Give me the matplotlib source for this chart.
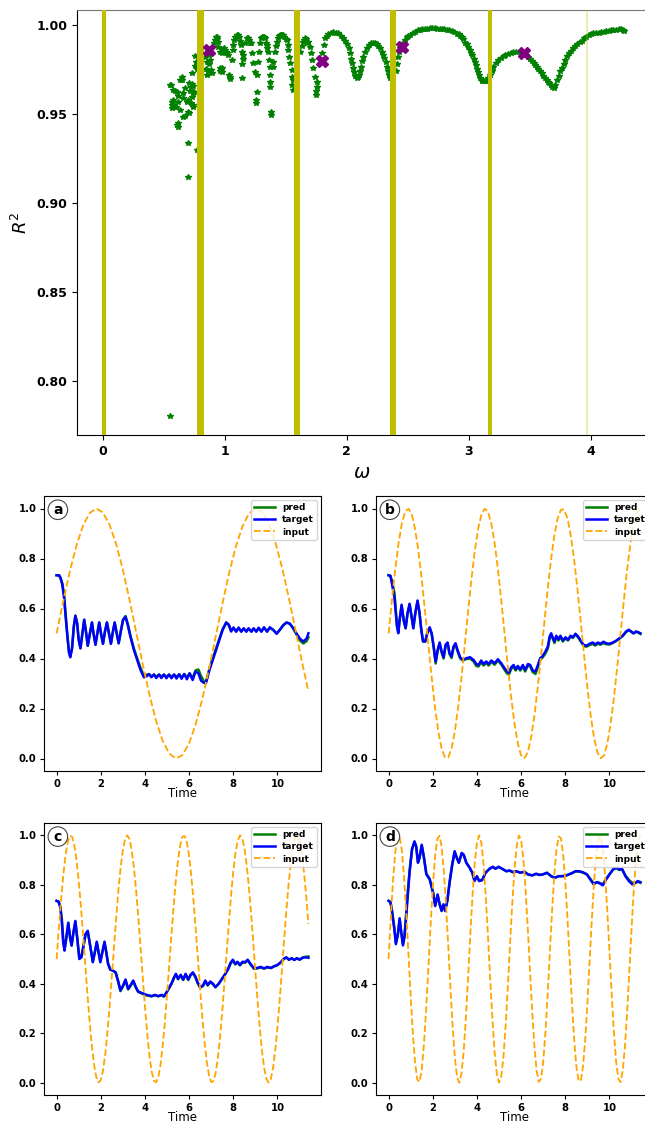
import numpy as np
import matplotlib
matplotlib.use("Agg")
import matplotlib.pyplot as plt

# ------------------------------------------------------------------ top panel data
# (omega, R^2) scatter points
r2_points = [
    (0.549, 0.7803),
    (0.552, 0.966), (0.560, 0.9663), (0.579, 0.9635), (0.593, 0.963), (0.607, 0.9626),
    (0.634, 0.9691), (0.648, 0.969), (0.653, 0.9710), (0.675, 0.9644), (0.661, 0.9588),
    (0.566, 0.9569), (0.587, 0.9550), (0.620, 0.9569), (0.620, 0.960), (0.571, 0.9532),
    (0.598, 0.9537), (0.634, 0.9522), (0.675, 0.9489), (0.661, 0.9485), (0.615, 0.9447),
    (0.615, 0.9425), (0.606, 0.944), (0.579, 0.958), (0.566, 0.955), (0.593, 0.954),
    (0.708, 0.9508), (0.702, 0.951), (0.724, 0.9560), (0.735, 0.9597), (0.743, 0.9537),
    (0.743, 0.955), (0.697, 0.9579), (0.688, 0.957), (0.661, 0.962), (0.743, 0.9657),
    (0.708, 0.9672), (0.716, 0.963), (0.729, 0.967), (0.724, 0.9654), (0.751, 0.9625),
    (0.743, 0.962), (0.697, 0.9335), (0.702, 0.9148), (0.770, 0.9300), (0.730, 0.9728),
    (0.757, 0.9826), (0.762, 0.9794), (0.770, 0.9751), (0.757, 0.977),
    (0.839, 0.9822), (0.852, 0.9794), (0.880, 0.9803), (0.888, 0.9747), (0.893, 0.9728),
    (0.845, 0.975), (0.855, 0.972), (0.865, 0.974), (0.870, 0.978), (0.875, 0.983),
    (0.915, 0.990), (0.921, 0.9916), (0.928, 0.9930), (0.934, 0.9934), (0.941, 0.992),
    (0.948, 0.9906), (0.943, 0.9878),
    (0.962, 0.985), (0.975, 0.9841), (0.989, 0.9863), (1.003, 0.986), (1.016, 0.9841),
    (1.025, 0.9831), (0.995, 0.987), (1.010, 0.985),
    (0.975, 0.9756), (0.975, 0.9738), (0.962, 0.974), (0.965, 0.976), (1.035, 0.9719),
    (1.044, 0.9695), (1.040, 0.971), (1.057, 0.9803),
    (1.065, 0.986), (1.071, 0.9888), (1.079, 0.9916), (1.087, 0.993), (1.098, 0.9944),
    (1.108, 0.9943), (1.117, 0.9934), (1.125, 0.991), (1.134, 0.9888), (1.139, 0.985),
    (1.153, 0.9831), (1.139, 0.970), (1.145, 0.978), (1.148, 0.981),
    (1.170, 0.990), (1.180, 0.9925), (1.190, 0.9928), (1.199, 0.9916), (1.208, 0.990),
    (1.216, 0.9897), (1.221, 0.9841), (1.235, 0.9785), (1.249, 0.9733), (1.262, 0.9719),
    (1.270, 0.9794), (1.281, 0.9850), (1.262, 0.9625), (1.254, 0.9579), (1.256, 0.956),
    (1.290, 0.990), (1.297, 0.9925), (1.303, 0.9934), (1.312, 0.9935), (1.322, 0.993),
    (1.330, 0.9925), (1.337, 0.990), (1.344, 0.9888), (1.350, 0.987), (1.358, 0.985),
    (1.363, 0.9803), (1.371, 0.9766), (1.371, 0.9719), (1.371, 0.9654), (1.373, 0.968),
    (1.380, 0.9513), (1.380, 0.9494), (1.399, 0.9766), (1.392, 0.979),
    (1.410, 0.985), (1.418, 0.988), (1.426, 0.9906), (1.435, 0.9925), (1.444, 0.9938),
    (1.453, 0.9944), (1.463, 0.9946), (1.472, 0.9946), (1.481, 0.9944), (1.490, 0.993),
    (1.500, 0.9920), (1.508, 0.9916), (1.515, 0.989), (1.522, 0.986), (1.529, 0.982),
    (1.536, 0.9785), (1.549, 0.9747), (1.549, 0.971), (1.555, 0.9663), (1.563, 0.9635),
    (1.560, 0.969),
    (1.620, 0.985), (1.630, 0.988), (1.645, 0.9906), (1.652, 0.9918), (1.658, 0.9925),
    (1.665, 0.992), (1.672, 0.9897), (1.686, 0.9906), (1.700, 0.9878), (1.708, 0.9841),
    (1.719, 0.9803), (1.727, 0.9756), (1.740, 0.971), (1.754, 0.9682), (1.760, 0.9654),
    (1.746, 0.9607), (1.750, 0.963),
    (1.800, 0.984), (1.810, 0.989), (1.822, 0.9925), (1.836, 0.994), (1.850, 0.995),
    (1.870, 0.9957), (1.891, 0.9959), (1.910, 0.9957), (1.932, 0.9953), (1.950, 0.994),
    (1.973, 0.9925), (1.985, 0.991), (2.000, 0.9893), (2.015, 0.987), (2.027, 0.9841),
    (2.037, 0.981), (2.047, 0.9785), (2.055, 0.976), (2.060, 0.9738), (2.070, 0.9715),
    (2.082, 0.970), (2.092, 0.9705), (2.101, 0.9719), (2.110, 0.974), (2.118, 0.9766),
    (2.128, 0.980), (2.137, 0.9822), (2.150, 0.985), (2.164, 0.9869), (2.180, 0.9885),
    (2.200, 0.9897), (2.215, 0.990), (2.232, 0.9901), (2.245, 0.9895), (2.260, 0.9882),
    (2.274, 0.9868), (2.287, 0.985), (2.298, 0.983), (2.309, 0.9813), (2.318, 0.979),
    (2.328, 0.9766), (2.338, 0.974), (2.347, 0.9719), (2.355, 0.970),
    (2.400, 0.974), (2.410, 0.978), (2.420, 0.982), (2.430, 0.985), (2.440, 0.987),
    (2.456, 0.9885), (2.465, 0.990), (2.478, 0.9916), (2.490, 0.993), (2.505, 0.994),
    (2.519, 0.9944), (2.540, 0.9955), (2.560, 0.9963), (2.580, 0.9970), (2.600, 0.9974),
    (2.620, 0.9977), (2.640, 0.9979), (2.660, 0.998), (2.680, 0.9981), (2.700, 0.9981),
    (2.720, 0.9981), (2.740, 0.998), (2.760, 0.998), (2.780, 0.9979), (2.800, 0.9977),
    (2.820, 0.9974), (2.840, 0.9970), (2.861, 0.9966), (2.880, 0.9958), (2.900, 0.9952),
    (2.916, 0.9948), (2.930, 0.994), (2.945, 0.993), (2.956, 0.992), (2.970, 0.990),
    (2.985, 0.9895), (2.997, 0.9878), (3.010, 0.986), (3.020, 0.9845), (3.030, 0.9831),
    (3.040, 0.981), (3.050, 0.979), (3.057, 0.9775), (3.066, 0.9755), (3.075, 0.9735),
    (3.085, 0.9719), (3.095, 0.970), (3.105, 0.969), (3.112, 0.9687), (3.125, 0.9685),
    (3.137, 0.9685), (3.148, 0.9685), (3.160, 0.970), (3.175, 0.9719), (3.188, 0.974),
    (3.202, 0.9766), (3.220, 0.9785), (3.243, 0.9803), (3.265, 0.9815), (3.285, 0.9826),
    (3.298, 0.9831), (3.320, 0.9838), (3.345, 0.9844), (3.366, 0.9846), (3.390, 0.9847),
    (3.421, 0.9846), (3.440, 0.9843), (3.456, 0.9837), (3.470, 0.983), (3.489, 0.9822),
    (3.505, 0.981), (3.520, 0.980), (3.532, 0.9788), (3.544, 0.9775), (3.557, 0.9764),
    (3.570, 0.9752), (3.585, 0.974), (3.598, 0.9728), (3.612, 0.9715), (3.625, 0.9703),
    (3.637, 0.9692), (3.648, 0.9682), (3.660, 0.9672), (3.672, 0.9661), (3.684, 0.9651),
    (3.694, 0.9644), (3.710, 0.9665), (3.720, 0.969), (3.735, 0.9715), (3.750, 0.974),
    (3.762, 0.976), (3.776, 0.978), (3.790, 0.9803), (3.805, 0.9825), (3.817, 0.984),
    (3.835, 0.9855), (3.850, 0.9868), (3.872, 0.988), (3.890, 0.9892), (3.910, 0.9902),
    (3.926, 0.991), (3.945, 0.9925), (3.960, 0.9935), (3.981, 0.9944), (4.000, 0.995),
    (4.020, 0.9953), (4.040, 0.9955), (4.063, 0.9957), (4.085, 0.996), (4.105, 0.9963),
    (4.125, 0.9965), (4.145, 0.9968), (4.165, 0.997), (4.185, 0.9972), (4.205, 0.9974),
    (4.227, 0.9976), (4.245, 0.9975), (4.260, 0.997), (4.268, 0.9966),
]
omega_marked = [0.869, 1.795, 2.451, 3.451]
r2_marked = [0.986, 0.980, 0.9876, 0.9843]
band_lo = [-0.005, 0.776, 1.568, 2.355, 3.161, 3.959]
band_hi = [0.028, 0.828, 1.617, 2.402, 3.189, 3.975]
band_alpha = [1.0, 1.0, 1.0, 1.0, 1.0, 0.3]

# ------------------------------------------------------------------ panel data
target_a = [(0.00,0.733),(0.11,0.733),(0.18,0.722),(0.26,0.695),(0.34,0.642),(0.41,0.568),(0.49,0.488),(0.56,0.424),(0.62,0.405),(0.70,0.441),(0.78,0.528),(0.85,0.571),(0.93,0.541),(1.00,0.475),(1.08,0.441),(1.16,0.495),(1.25,0.555),(1.34,0.501),(1.41,0.451),(1.51,0.501),(1.60,0.544),(1.67,0.501),(1.76,0.455),(1.86,0.508),(1.93,0.544),(2.02,0.495),(2.10,0.459),(2.19,0.508),(2.28,0.544),(2.37,0.501),(2.46,0.459),(2.55,0.508),(2.63,0.544),(2.72,0.501),(2.81,0.461),(2.92,0.515),(3.01,0.555),(3.12,0.566),(3.22,0.535),(3.34,0.488),(3.50,0.434),(3.65,0.394),(3.80,0.354),(3.95,0.325),(4.07,0.328),(4.18,0.338),(4.29,0.325),(4.41,0.336),(4.51,0.322),(4.64,0.336),(4.74,0.322),(4.86,0.336),(4.97,0.321),(5.09,0.336),(5.20,0.321),(5.32,0.336),(5.43,0.320),(5.55,0.337),(5.66,0.319),(5.78,0.338),(5.90,0.317),(6.02,0.341),(6.16,0.314),(6.29,0.348),(6.42,0.341),(6.54,0.311),(6.66,0.303),(6.76,0.301),(6.92,0.354),(7.07,0.394),(7.22,0.434),(7.37,0.475),(7.52,0.515),(7.68,0.544),(7.80,0.535),(7.90,0.508),(8.01,0.524),(8.13,0.507),(8.24,0.524),(8.36,0.507),(8.47,0.521),(8.59,0.507),(8.69,0.521),(8.82,0.507),(8.92,0.521),(9.04,0.507),(9.15,0.523),(9.27,0.507),(9.39,0.525),(9.53,0.507),(9.65,0.525),(9.80,0.515),(9.96,0.499),(10.11,0.515),(10.26,0.533),(10.41,0.544),(10.56,0.539),(10.72,0.521),(10.87,0.499),(11.02,0.479),(11.17,0.468),(11.32,0.480),(11.40,0.501)]
pred_a = [(0.00,0.733),(0.11,0.733),(0.18,0.722),(0.26,0.700),(0.34,0.655),(0.41,0.575),(0.49,0.490),(0.56,0.428),(0.62,0.408),(0.70,0.441),(0.78,0.528),(0.85,0.571),(0.93,0.541),(1.00,0.475),(1.08,0.441),(1.16,0.495),(1.25,0.555),(1.34,0.501),(1.41,0.451),(1.51,0.501),(1.60,0.544),(1.67,0.501),(1.76,0.455),(1.86,0.508),(1.93,0.544),(2.02,0.495),(2.10,0.459),(2.19,0.508),(2.28,0.544),(2.37,0.501),(2.46,0.459),(2.55,0.508),(2.63,0.544),(2.72,0.501),(2.81,0.461),(2.92,0.515),(3.01,0.555),(3.12,0.570),(3.22,0.540),(3.34,0.492),(3.50,0.440),(3.65,0.400),(3.80,0.362),(3.95,0.333),(4.07,0.335),(4.18,0.337),(4.29,0.330),(4.41,0.335),(4.51,0.328),(4.64,0.335),(4.74,0.328),(4.86,0.335),(4.97,0.327),(5.09,0.335),(5.20,0.327),(5.32,0.335),(5.43,0.327),(5.55,0.336),(5.66,0.326),(5.78,0.337),(5.90,0.325),(6.02,0.340),(6.16,0.322),(6.29,0.352),(6.42,0.356),(6.54,0.330),(6.66,0.310),(6.76,0.305),(6.92,0.360),(7.07,0.402),(7.22,0.440),(7.37,0.480),(7.52,0.518),(7.68,0.544),(7.80,0.532),(7.90,0.512),(8.01,0.520),(8.13,0.510),(8.24,0.520),(8.36,0.510),(8.47,0.518),(8.59,0.510),(8.69,0.518),(8.82,0.510),(8.92,0.518),(9.04,0.510),(9.15,0.520),(9.27,0.510),(9.39,0.522),(9.53,0.510),(9.65,0.522),(9.80,0.515),(9.96,0.500),(10.11,0.515),(10.26,0.533),(10.41,0.544),(10.56,0.539),(10.72,0.518),(10.87,0.495),(11.02,0.472),(11.17,0.460),(11.32,0.470),(11.40,0.485)]
input_a = [0.500,0.629,0.749,0.852,0.932,0.982,1.000,0.984,0.935,0.857,0.755,0.635,0.507,0.377,0.256,0.152,0.071,0.020,0.000,0.014,0.061,0.138,0.239,0.359,0.487,0.616,0.738,0.843,0.925,0.979,1.000,0.987,0.942,0.866,0.766,0.648,0.520,0.390,0.268]
input_step_a = 0.3

target_b = [(0.00,0.733),(0.08,0.731),(0.12,0.715),(0.20,0.675),(0.27,0.640),(0.32,0.588),(0.38,0.528),(0.44,0.501),(0.50,0.555),(0.59,0.615),(0.68,0.555),(0.77,0.521),(0.86,0.582),(0.95,0.619),(1.04,0.568),(1.12,0.521),(1.21,0.582),(1.31,0.632),(1.40,0.582),(1.48,0.515),(1.56,0.468),(1.66,0.468),(1.75,0.501),(1.86,0.525),(1.95,0.501),(2.04,0.448),(2.13,0.388),(2.22,0.434),(2.31,0.464),(2.40,0.428),(2.49,0.405),(2.58,0.455),(2.67,0.464),(2.76,0.421),(2.85,0.408),(2.94,0.448),(3.03,0.461),(3.12,0.434),(3.24,0.405),(3.36,0.394),(3.51,0.401),(3.69,0.405),(3.85,0.394),(3.97,0.378),(4.07,0.374),(4.19,0.392),(4.30,0.378),(4.42,0.388),(4.53,0.378),(4.65,0.392),(4.80,0.381),(4.95,0.397),(5.10,0.381),(5.25,0.361),(5.36,0.348),(5.45,0.344),(5.55,0.365),(5.66,0.374),(5.75,0.357),(5.85,0.370),(5.96,0.357),(6.08,0.374),(6.18,0.354),(6.31,0.378),(6.41,0.374),(6.53,0.352),(6.65,0.348),(6.76,0.374),(6.86,0.401),(6.98,0.410),(7.10,0.428),(7.21,0.448),(7.29,0.488),(7.36,0.501),(7.44,0.481),(7.51,0.468),(7.59,0.491),(7.69,0.477),(7.78,0.491),(7.89,0.472),(8.01,0.485),(8.12,0.475),(8.24,0.491),(8.34,0.485),(8.46,0.499),(8.58,0.488),(8.72,0.468),(8.83,0.455),(8.95,0.451),(9.10,0.459),(9.25,0.464),(9.35,0.456),(9.47,0.464),(9.59,0.459),(9.73,0.467),(9.85,0.461),(10.00,0.459),(10.15,0.464),(10.30,0.471),(10.45,0.481),(10.60,0.491),(10.75,0.508),(10.87,0.515),(10.98,0.508),(11.09,0.501),(11.20,0.508),(11.31,0.505),(11.40,0.501)]
pred_b = [(0.00,0.733),(0.08,0.731),(0.12,0.720),(0.20,0.690),(0.27,0.660),(0.32,0.600),(0.38,0.530),(0.44,0.505),(0.50,0.555),(0.59,0.612),(0.68,0.555),(0.77,0.521),(0.86,0.582),(0.95,0.615),(1.04,0.568),(1.12,0.521),(1.21,0.582),(1.31,0.628),(1.40,0.582),(1.48,0.515),(1.56,0.468),(1.66,0.468),(1.75,0.501),(1.86,0.520),(1.95,0.498),(2.04,0.445),(2.13,0.380),(2.22,0.430),(2.31,0.460),(2.40,0.425),(2.49,0.400),(2.58,0.450),(2.67,0.460),(2.76,0.418),(2.85,0.402),(2.94,0.443),(3.03,0.456),(3.12,0.430),(3.24,0.400),(3.36,0.392),(3.51,0.398),(3.69,0.400),(3.85,0.388),(3.97,0.370),(4.07,0.368),(4.19,0.385),(4.30,0.372),(4.42,0.382),(4.53,0.372),(4.65,0.386),(4.80,0.375),(4.95,0.392),(5.10,0.376),(5.25,0.355),(5.36,0.340),(5.45,0.336),(5.55,0.358),(5.66,0.368),(5.75,0.352),(5.85,0.365),(5.96,0.352),(6.08,0.368),(6.18,0.348),(6.31,0.372),(6.41,0.368),(6.53,0.345),(6.65,0.338),(6.76,0.366),(6.86,0.395),(6.98,0.405),(7.10,0.420),(7.21,0.440),(7.29,0.480),(7.36,0.495),(7.44,0.478),(7.51,0.462),(7.59,0.486),(7.69,0.472),(7.78,0.487),(7.89,0.468),(8.01,0.481),(8.12,0.472),(8.24,0.488),(8.34,0.482),(8.46,0.496),(8.58,0.485),(8.72,0.465),(8.83,0.451),(8.95,0.447),(9.10,0.454),(9.25,0.458),(9.35,0.452),(9.47,0.459),(9.59,0.455),(9.73,0.462),(9.85,0.457),(10.00,0.456),(10.15,0.462),(10.30,0.470),(10.45,0.480),(10.60,0.490),(10.75,0.506),(10.87,0.513),(10.98,0.507),(11.09,0.500),(11.20,0.507),(11.31,0.503),(11.40,0.498)]
input_b = [0.500,0.633,0.756,0.861,0.940,0.988,0.999,0.976,0.918,0.829,0.717,0.589,0.455,0.325,0.206,0.109,0.039,0.005,0.004,0.040,0.109,0.206,0.324,0.455,0.589,0.717,0.829,0.917,0.975,0.999,0.988,0.940,0.862,0.757,0.633,0.500,0.367,0.244,0.139,0.060,0.012,0.001,0.025,0.082,0.171,0.283,0.410,0.544,0.675,0.793,0.890,0.959,0.995,0.996,0.960,0.891,0.795,0.677,0.546,0.412,0.284,0.172,0.083,0.025,0.001,0.012,0.059,0.138,0.242,0.366,0.499,0.632,0.756,0.861,0.940,0.987,1.000]
input_step_b = 0.15

target_c = [(0.00,0.735),(0.09,0.732),(0.17,0.708),(0.24,0.647),(0.30,0.567),(0.36,0.534),(0.44,0.587),(0.53,0.647),(0.61,0.587),(0.68,0.554),(0.76,0.607),(0.85,0.654),(0.94,0.580),(1.03,0.500),(1.12,0.507),(1.22,0.554),(1.31,0.601),(1.41,0.614),(1.52,0.554),(1.64,0.487),(1.73,0.527),(1.82,0.570),(1.90,0.527),(1.98,0.487),(2.07,0.527),(2.17,0.570),(2.25,0.527),(2.33,0.480),(2.43,0.457),(2.55,0.453),(2.67,0.446),(2.78,0.413),(2.89,0.373),(3.01,0.393),(3.12,0.417),(3.24,0.379),(3.34,0.393),(3.47,0.413),(3.59,0.386),(3.69,0.369),(3.84,0.363),(4.07,0.355),(4.30,0.350),(4.45,0.355),(4.60,0.350),(4.76,0.355),(4.86,0.349),(4.98,0.366),(5.11,0.386),(5.21,0.403),(5.32,0.426),(5.40,0.440),(5.50,0.420),(5.62,0.436),(5.73,0.417),(5.84,0.440),(5.96,0.417),(6.06,0.436),(6.17,0.446),(6.28,0.430),(6.38,0.406),(6.50,0.386),(6.63,0.393),(6.73,0.413),(6.84,0.395),(6.96,0.409),(7.08,0.400),(7.19,0.386),(7.34,0.400),(7.49,0.420),(7.64,0.440),(7.77,0.460),(7.87,0.484),(7.98,0.497),(8.09,0.480),(8.19,0.489),(8.30,0.476),(8.42,0.489),(8.53,0.487),(8.65,0.497),(8.78,0.480),(8.94,0.462),(9.09,0.464),(9.24,0.468),(9.39,0.462),(9.54,0.468),(9.70,0.464),(9.85,0.471),(10.00,0.476),(10.15,0.487),(10.27,0.500),(10.40,0.507),(10.52,0.497),(10.64,0.503),(10.76,0.496),(10.88,0.503),(11.00,0.497),(11.14,0.505),(11.28,0.507),(11.40,0.505)]
pred_c = [(0.00,0.735),(0.09,0.732),(0.17,0.712),(0.24,0.660),(0.30,0.580),(0.36,0.540),(0.44,0.585),(0.53,0.643),(0.61,0.587),(0.68,0.556),(0.76,0.605),(0.85,0.650),(0.94,0.580),(1.03,0.503),(1.12,0.507),(1.22,0.554),(1.31,0.598),(1.41,0.612),(1.52,0.554),(1.64,0.490),(1.73,0.527),(1.82,0.566),(1.90,0.527),(1.98,0.490),(2.07,0.527),(2.17,0.566),(2.25,0.527),(2.33,0.483),(2.43,0.457),(2.55,0.453),(2.67,0.446),(2.78,0.410),(2.89,0.370),(3.01,0.390),(3.12,0.413),(3.24,0.377),(3.34,0.390),(3.47,0.410),(3.59,0.384),(3.69,0.367),(3.84,0.361),(4.07,0.353),(4.30,0.349),(4.45,0.353),(4.60,0.349),(4.76,0.353),(4.86,0.348),(4.98,0.364),(5.11,0.384),(5.21,0.401),(5.32,0.424),(5.40,0.437),(5.50,0.418),(5.62,0.433),(5.73,0.415),(5.84,0.437),(5.96,0.415),(6.06,0.433),(6.17,0.443),(6.28,0.427),(6.38,0.403),(6.50,0.384),(6.63,0.391),(6.73,0.410),(6.84,0.393),(6.96,0.406),(7.08,0.398),(7.19,0.386),(7.34,0.400),(7.49,0.420),(7.64,0.440),(7.77,0.460),(7.87,0.480),(7.98,0.493),(8.09,0.478),(8.19,0.486),(8.30,0.474),(8.42,0.486),(8.53,0.485),(8.65,0.494),(8.78,0.478),(8.94,0.460),(9.09,0.462),(9.24,0.466),(9.39,0.461),(9.54,0.466),(9.70,0.463),(9.85,0.470),(10.00,0.475),(10.15,0.486),(10.27,0.499),(10.40,0.506),(10.52,0.497),(10.64,0.503),(10.76,0.497),(10.88,0.503),(11.00,0.498),(11.14,0.506),(11.28,0.509),(11.40,0.510)]
input_c = [0.500,0.622,0.736,0.836,0.916,0.971,0.998,0.995,0.962,0.901,0.817,0.713,0.597,0.475,0.354,0.243,0.146,0.071,0.021,0.001,0.010,0.048,0.113,0.202,0.309,0.427,0.550,0.669,0.779,0.871,0.941,0.985,1.000,0.985,0.940,0.870,0.777,0.668,0.548,0.426,0.308,0.201,0.112,0.047,0.009,0.001,0.021,0.070,0.146,0.243,0.357,0.477,0.599,0.715,0.819,0.903,0.963,0.995,0.997,0.970,0.915,0.834,0.734,0.620,0.498,0.376,0.262,0.162,0.083,0.029,0.002,0.006,0.039,0.100,0.184,0.288,0.405,0.527,0.647,0.759,0.855,0.930,0.979,1.000,0.990,0.951,0.885,0.796,0.690,0.571,0.448,0.329,0.220,0.127,0.058,0.015,0.000,0.015,0.060,0.132,0.226,0.334,0.454,0.577,0.694,0.800,0.889,0.953,0.991,0.999,0.978,0.927,0.851,0.754,0.642]
input_step_c = 0.1

target_d = [(0.00,0.735),(0.08,0.731),(0.14,0.701),(0.20,0.660),(0.26,0.620),(0.33,0.560),(0.42,0.600),(0.50,0.665),(0.57,0.610),(0.65,0.555),(0.72,0.590),(0.80,0.674),(0.88,0.770),(0.95,0.849),(1.06,0.942),(1.17,0.976),(1.25,0.956),(1.33,0.889),(1.40,0.909),(1.50,0.962),(1.59,0.916),(1.71,0.842),(1.86,0.822),(2.01,0.768),(2.11,0.714),(2.22,0.761),(2.31,0.721),(2.40,0.694),(2.48,0.721),(2.56,0.694),(2.66,0.735),(2.76,0.808),(2.88,0.882),(2.99,0.936),(3.09,0.909),(3.18,0.889),(3.31,0.929),(3.40,0.922),(3.52,0.889),(3.67,0.869),(3.79,0.849),(3.89,0.815),(4.00,0.835),(4.10,0.815),(4.24,0.819),(4.39,0.849),(4.57,0.865),(4.72,0.873),(4.84,0.865),(4.98,0.873),(5.14,0.865),(5.33,0.855),(5.48,0.858),(5.63,0.851),(5.78,0.855),(5.96,0.849),(6.15,0.853),(6.31,0.842),(6.50,0.838),(6.68,0.845),(6.83,0.840),(6.98,0.842),(7.17,0.849),(7.36,0.835),(7.51,0.828),(7.71,0.835),(7.89,0.835),(8.07,0.839),(8.27,0.846),(8.46,0.855),(8.61,0.855),(8.79,0.851),(8.98,0.842),(9.13,0.822),(9.28,0.802),(9.43,0.811),(9.55,0.806),(9.70,0.798),(9.85,0.822),(10.00,0.842),(10.18,0.865),(10.33,0.869),(10.45,0.862),(10.57,0.865),(10.72,0.835),(10.88,0.815),(11.03,0.802),(11.15,0.806),(11.28,0.815),(11.40,0.811)]
pred_d = [(0.00,0.735),(0.08,0.731),(0.14,0.705),(0.20,0.668),(0.26,0.628),(0.33,0.565),(0.42,0.598),(0.50,0.660),(0.57,0.610),(0.65,0.560),(0.72,0.595),(0.80,0.690),(0.88,0.785),(0.95,0.858),(1.06,0.945),(1.17,0.972),(1.25,0.952),(1.33,0.892),(1.40,0.909),(1.50,0.958),(1.59,0.916),(1.71,0.845),(1.86,0.824),(2.01,0.772),(2.11,0.718),(2.22,0.758),(2.31,0.722),(2.40,0.697),(2.48,0.720),(2.56,0.697),(2.66,0.738),(2.76,0.810),(2.88,0.880),(2.99,0.932),(3.09,0.908),(3.18,0.890),(3.31,0.926),(3.40,0.920),(3.52,0.889),(3.67,0.869),(3.79,0.849),(3.89,0.818),(4.00,0.833),(4.10,0.817),(4.24,0.821),(4.39,0.849),(4.57,0.865),(4.72,0.872),(4.84,0.865),(4.98,0.872),(5.14,0.865),(5.33,0.855),(5.48,0.857),(5.63,0.851),(5.78,0.855),(5.96,0.849),(6.15,0.852),(6.31,0.842),(6.50,0.838),(6.68,0.844),(6.83,0.840),(6.98,0.842),(7.17,0.848),(7.36,0.835),(7.51,0.829),(7.71,0.835),(7.89,0.835),(8.07,0.839),(8.27,0.846),(8.46,0.854),(8.61,0.854),(8.79,0.850),(8.98,0.842),(9.13,0.824),(9.28,0.806),(9.43,0.810),(9.55,0.808),(9.70,0.802),(9.85,0.824),(10.00,0.843),(10.18,0.863),(10.33,0.866),(10.45,0.860),(10.57,0.862),(10.72,0.838),(10.88,0.820),(11.03,0.808),(11.15,0.808),(11.28,0.812),(11.40,0.808)]
input_d = [0.500,0.669,0.818,0.930,0.991,0.994,0.939,0.832,0.686,0.518,0.348,0.196,0.080,0.012,0.003,0.052,0.155,0.297,0.463,0.634,0.789,0.910,0.983,0.998,0.955,0.858,0.720,0.555,0.384,0.226,0.100,0.022,0.000,0.037,0.128,0.264,0.427,0.599,0.759,0.888,0.972,1.000,0.969,0.883,0.752,0.591,0.419,0.257,0.123,0.035,0.000,0.024,0.104,0.233,0.391,0.563,0.727,0.864,0.958,0.999,0.981,0.905,0.783,0.627,0.456,0.290,0.149,0.049,0.003,0.015,0.084,0.203,0.356,0.526,0.693,0.838,0.943,0.995,0.989,0.926,0.812,0.661,0.492,0.324,0.176,0.066,0.008,0.007,0.065,0.173,0.321,0.490,0.659,0.810,0.925,0.989,0.996,0.944,0.840,0.696,0.529,0.358,0.205,0.085,0.016,0.002,0.048,0.146,0.287,0.453,0.624,0.781,0.904,0.980,0.999]
input_step_d = 0.1

panel_letters = ["a", "b", "c", "d"]

# ------------------------------------------------------------------ figure
W, H = 645, 1125
fig = plt.figure(figsize=(W / 100, H / 100), dpi=100)


def frac(x0, y0, x1, y1):
    return [x0 / W, 1 - y1 / H, (x1 - x0) / W, (y1 - y0) / H]


# ---------------- top panel
ax = fig.add_axes(frac(77, 10, 647, 435))
om = [p[0] for p in r2_points]
rr = [p[1] for p in r2_points]
ax.plot(om, rr, linestyle="none", marker="*", color="g", markersize=4.2, zorder=2)
for lo, hi, al in zip(band_lo, band_hi, band_alpha):
    ax.axvspan(lo, hi, color="y", alpha=al, lw=0, zorder=3)
ax.plot(omega_marked, r2_marked, linestyle="none", marker="X", color="purple",
        markersize=9, zorder=4)
ax.set_xlim(-0.21, 4.46)
ax.set_ylim(0.7697, 1.0084)
ax.set_xticks([0, 1, 2, 3, 4])
ax.set_yticks([0.80, 0.85, 0.90, 0.95, 1.00])
ax.set_yticklabels(["0.80", "0.85", "0.90", "0.95", "1.00"])
for lab in ax.get_xticklabels() + ax.get_yticklabels():
    lab.set_fontweight("bold")
    lab.set_fontsize(9)
ax.set_xlabel(r"$\omega$", fontsize=14)
ax.set_ylabel(r"$R^2$", fontsize=13)
ax.spines["top"].set_color("#777777")

# ---------------- bottom panels
boxes = [(44, 496, 321, 771), (376, 496, 653, 771),
         (44, 823, 321, 1095), (376, 823, 653, 1095)]
targets = [target_a, target_b, target_c, target_d]
preds = [pred_a, pred_b, pred_c, pred_d]
inputs = [input_a, input_b, input_c, input_d]
steps = [input_step_a, input_step_b, input_step_c, input_step_d]

for box, tg, pr, inp, st, letter in zip(boxes, targets, preds, inputs, steps, panel_letters):
    a = fig.add_axes(frac(*box))
    a.plot([p[0] for p in pr], [p[1] for p in pr], color="g", lw=1.8, label="pred")
    a.plot([p[0] for p in tg], [p[1] for p in tg], color="b", lw=1.8, label="target")
    ti = np.arange(len(inp)) * st
    a.plot(ti, inp, color="orange", lw=1.3, linestyle="--", label="input")
    a.set_xlim(-0.57, 11.97)
    a.set_ylim(-0.05, 1.05)
    a.set_xticks([0, 2, 4, 6, 8, 10])
    a.set_yticks([0.0, 0.2, 0.4, 0.6, 0.8, 1.0])
    for lab in a.get_xticklabels() + a.get_yticklabels():
        lab.set_fontweight("bold")
        lab.set_fontsize(7.2)
    a.tick_params(length=3, pad=2.5)
    a.set_xlabel("Time", fontsize=8.5, labelpad=-1)
    a.legend(loc="upper right", prop={"weight": "bold", "size": 6.5},
             handlelength=2.3, borderpad=0.35, labelspacing=0.35,
             borderaxespad=0.45)
    a.text(0.05, 0.95, letter, transform=a.transAxes, fontsize=10, fontweight="bold",
           ha="center", va="center",
           bbox=dict(boxstyle="circle,pad=0.2", fc="white", ec="#444444", lw=0.8))

fig.savefig("out.png", dpi=100)
